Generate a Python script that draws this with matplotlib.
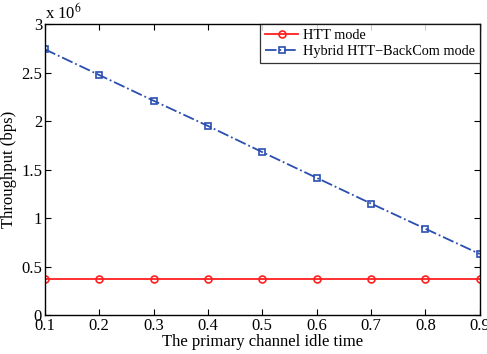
import matplotlib
matplotlib.use('Agg')
import matplotlib.pyplot as plt

plt.rcParams['font.family'] = ['Liberation Serif', 'DejaVu Serif']
plt.rcParams['mathtext.fontset'] = 'stix'

idle_time = [0.1, 0.2, 0.3, 0.4, 0.5, 0.6, 0.7, 0.8, 0.9]
htt_mode = [0.37, 0.37, 0.37, 0.37, 0.37, 0.37, 0.37, 0.37, 0.37]
hybrid_mode = [2.74, 2.475, 2.21, 1.95, 1.68, 1.415, 1.15, 0.89, 0.63]

fig = plt.figure(figsize=(4.87, 3.54), dpi=100)
ax = fig.add_axes([0.092, 0.11, 0.893, 0.822])

ax.plot(idle_time, htt_mode, color='#ff2020', marker='o', markersize=5,
        markerfacecolor='none', markeredgewidth=1.2, linewidth=1.3, label='HTT mode')
ax.plot(idle_time, hybrid_mode, color='#2a4fb0', marker='s', markersize=5,
        markerfacecolor='none', markeredgewidth=1.2, linewidth=1.3, linestyle='-.',
        label='Hybrid HTT\u2212BackCom mode')

ax.set_xlim(0.1, 0.9)
ax.set_ylim(0, 3)
ax.set_xticks(idle_time)
ax.set_xticklabels(['0.1', '0.2', '0.3', '0.4', '0.5', '0.6', '0.7', '0.8', '0.9'])
ax.set_yticks([0, 0.5, 1, 1.5, 2, 2.5, 3])
ax.set_yticklabels(['0', '0.5', '1', '1.5', '2', '2.5', '3'])
ax.tick_params(direction='in', top=True, right=True, labelsize=12, length=4, width=0.8, pad=2)
for s in ax.spines.values():
    s.set_linewidth(1.0)

ax.set_xlabel('The primary channel idle time', fontsize=12, labelpad=0)
ax.set_ylabel('Throughput (bps)', fontsize=12, labelpad=3)
ax.text(0.0, 1.003, r'x 10$^6$', transform=ax.transAxes, fontsize=12, ha='left', va='bottom')

leg = ax.legend(loc='upper right', fontsize=10.3, frameon=True, fancybox=False,
                edgecolor='black', borderaxespad=0, handlelength=2.3, borderpad=0.35,
                labelspacing=0.2, handletextpad=0.3)
leg.get_frame().set_linewidth(0.9)

fig.savefig('out.png', dpi=100)
